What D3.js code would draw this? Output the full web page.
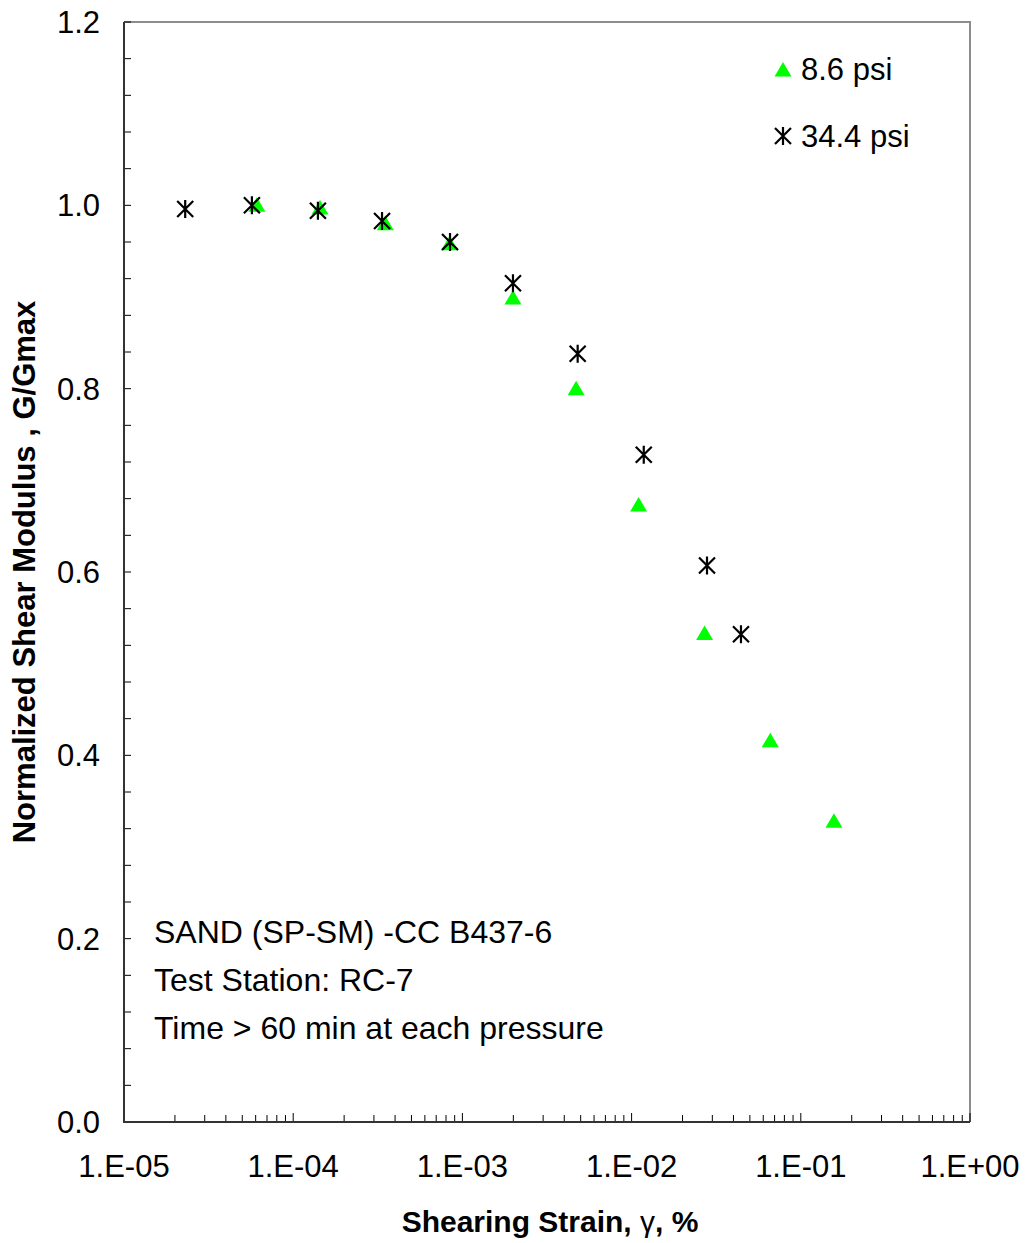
<!DOCTYPE html>
<html>
<head>
<meta charset="utf-8">
<script src="https://cdn.jsdelivr.net/npm/d3@7"></script>
<style>
  body { margin: 0; background: #fff; }
  text { font-family: Arial, "Liberation Sans", sans-serif; fill: #000; }
</style>
</head>
<body>
<script>
var w = 1032;
var h = 1243;

// Data
// 8.6 psi (green triangles)
var strainLow = [6.1e-5, 1.44e-4, 3.5e-4, 8.4e-4, 1.99e-3, 4.7e-3, 1.1e-2, 2.7e-2, 6.6e-2, 1.57e-1];
var modLow    = [1.0, 0.997, 0.980, 0.958, 0.899, 0.800, 0.673, 0.533, 0.416, 0.328];
// 34.4 psi (black asterisks)
var strainHigh = [2.3e-5, 5.7e-5, 1.40e-4, 3.35e-4, 8.45e-4, 1.99e-3, 4.8e-3, 1.18e-2, 2.79e-2, 4.43e-2];
var modHigh    = [0.996, 1.0, 0.994, 0.983, 0.960, 0.915, 0.838, 0.728, 0.607, 0.532];

var seriesNames = ["8.6 psi", "34.4 psi"];
var xTickValues = [1e-5, 1e-4, 1e-3, 1e-2, 1e-1, 1];
var xTickLabels = ["1.E-05", "1.E-04", "1.E-03", "1.E-02", "1.E-01", "1.E+00"];
var yTickValues = [0, 0.2, 0.4, 0.6, 0.8, 1.0, 1.2];
var notes = ["SAND (SP-SM) -CC B437-6", "Test Station: RC-7", "Time > 60 min at each pressure"];

// plot box
var pL = 124, pR = 970, pT = 22, pB = 1122;

var svg = d3.select("body")
  .append("svg")
  .attr("width", w)
  .attr("height", h);

var x = d3.scaleLog().domain([1e-5, 1]).range([pL, pR]);
var y = d3.scaleLinear().domain([0, 1.2]).range([pB, pT]);

// top and right border (grey)
svg.append("path")
  .attr("d", "M" + pL + "," + pT + "H" + pR + "V" + pB)
  .attr("fill", "none")
  .attr("stroke", "#8c8c8c")
  .attr("stroke-width", 2);

// x minor ticks (inside)
var xMinor = [];
for (var e = -5; e < 0; e++) {
  for (var m = 2; m <= 9; m++) xMinor.push(m * Math.pow(10, e));
}
svg.selectAll(".xminor")
  .data(xMinor)
  .enter()
  .append("line")
  .attr("x1", function(d) { return x(d); })
  .attr("x2", function(d) { return x(d); })
  .attr("y1", pB)
  .attr("y2", pB - 7)
  .attr("stroke", "#000")
  .attr("stroke-width", 1);

svg.selectAll(".xmajor")
  .data(xTickValues)
  .enter()
  .append("line")
  .attr("x1", function(d) { return x(d); })
  .attr("x2", function(d) { return x(d); })
  .attr("y1", pB)
  .attr("y2", pB - 9)
  .attr("stroke", "#000")
  .attr("stroke-width", 1);

// y ticks every 0.04 (inside)
var yMinor = d3.range(0, 31).map(function(i) { return i * 0.04; });
svg.selectAll(".ytick")
  .data(yMinor)
  .enter()
  .append("line")
  .attr("x1", pL)
  .attr("x2", pL + 7)
  .attr("y1", function(d) { return y(d); })
  .attr("y2", function(d) { return y(d); })
  .attr("stroke", "#000")
  .attr("stroke-width", 1);

// left and bottom axis lines
svg.append("path")
  .attr("d", "M" + pL + "," + pT + "V" + pB + "H" + pR)
  .attr("fill", "none")
  .attr("stroke", "#333")
  .attr("stroke-width", 2);

// tick labels
svg.selectAll(".xlab")
  .data(xTickValues)
  .enter()
  .append("text")
  .attr("x", function(d) { return x(d); })
  .attr("y", 1177)
  .attr("text-anchor", "middle")
  .style("font-size", "31px")
  .text(function(d, i) { return xTickLabels[i]; });

svg.selectAll(".ylab")
  .data(yTickValues)
  .enter()
  .append("text")
  .attr("x", 100)
  .attr("y", function(d) { return y(d) + 11; })
  .attr("text-anchor", "end")
  .style("font-size", "31px")
  .text(function(d) { return d3.format(".1f")(d); });

// axis titles
var xt = svg.append("text")
  .attr("x", 550)
  .attr("y", 1232)
  .attr("text-anchor", "middle")
  .style("font-size", "30px")
  .style("font-weight", "bold");
xt.append("tspan").text("Shearing Strain, ");
xt.append("tspan").style("font-weight", "normal").text("γ");
xt.append("tspan").text(", %");

svg.append("text")
  .attr("transform", "translate(35,572) rotate(-90)")
  .attr("text-anchor", "middle")
  .style("font-size", "31px")
  .style("font-weight", "bold")
  .text("Normalized Shear Modulus , G/Gmax");

// markers
var triPath = "M0,-8L8.5,6.5L-8.5,6.5Z";
var starPath = "M0,-9V9M-8,-8L8,8M-8,8L8,-8";

svg.selectAll(".tri")
  .data(strainLow)
  .enter()
  .append("path")
  .attr("d", triPath)
  .attr("transform", function(d, i) { return "translate(" + x(d) + "," + y(modLow[i]) + ")"; })
  .attr("fill", "#00ff00");

svg.selectAll(".star")
  .data(strainHigh)
  .enter()
  .append("path")
  .attr("d", starPath)
  .attr("transform", function(d, i) { return "translate(" + x(d) + "," + y(modHigh[i]) + ")"; })
  .attr("fill", "none")
  .attr("stroke", "#000")
  .attr("stroke-width", 2.2);

// legend
svg.append("path")
  .attr("d", triPath)
  .attr("transform", "translate(783,70)")
  .attr("fill", "#00ff00");
svg.append("text")
  .attr("x", 801).attr("y", 80)
  .style("font-size", "31px")
  .text(seriesNames[0]);
svg.append("path")
  .attr("d", starPath)
  .attr("transform", "translate(783,136)")
  .attr("fill", "none")
  .attr("stroke", "#000")
  .attr("stroke-width", 2.2);
svg.append("text")
  .attr("x", 801).attr("y", 147)
  .style("font-size", "31px")
  .text(seriesNames[1]);

// notes
svg.selectAll(".note")
  .data(notes)
  .enter()
  .append("text")
  .attr("x", 154)
  .attr("y", function(d, i) { return 943 + i * 48; })
  .style("font-size", "32px")
  .text(function(d) { return d; });
</script>
</body>
</html>
